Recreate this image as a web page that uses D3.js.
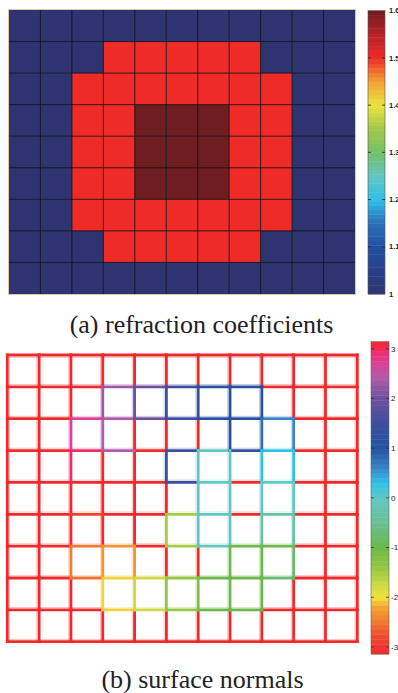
<!DOCTYPE html>
<html>
<head>
<meta charset="utf-8">
<script src="https://cdn.jsdelivr.net/npm/d3@7"></script>
<style>
  html, body { margin: 0; padding: 0; background: #fff; }
  svg { display: block; }
</style>
</head>
<body>
<svg id="fig" width="398" height="693"></svg>
<script>
// ---- data --------------------------------------------------------------
// (a) refraction coefficient of every cell, 9 rows x 11 columns
const refraction = [
  [1, 1, 1, 1,   1,   1,   1,   1,   1,   1, 1],
  [1, 1, 1, 1.5, 1.5, 1.5, 1.5, 1.5, 1,   1, 1],
  [1, 1, 1.5, 1.5, 1.5, 1.5, 1.5, 1.5, 1.5, 1, 1],
  [1, 1, 1.5, 1.5, 1.6, 1.6, 1.6, 1.5, 1.5, 1, 1],
  [1, 1, 1.5, 1.5, 1.6, 1.6, 1.6, 1.5, 1.5, 1, 1],
  [1, 1, 1.5, 1.5, 1.6, 1.6, 1.6, 1.5, 1.5, 1, 1],
  [1, 1, 1.5, 1.5, 1.5, 1.5, 1.5, 1.5, 1.5, 1, 1],
  [1, 1, 1, 1.5, 1.5, 1.5, 1.5, 1.5, 1,   1, 1],
  [1, 1, 1, 1,   1,   1,   1,   1,   1,   1, 1]
];
const refractionTicks = [1, 1.1, 1.2, 1.3, 1.4, 1.5, 1.6];
const refractionTickLabels = ["1", "1.1", "1.2", "1.3", "1.4", "1.5", "1.6"];

// (b) surface normal angle (radians) on each cell edge
// horizontal edges: 10 grid lines x 11 segments
const P = 3.14;
const normalsH = [
  [P, P, P,     P,    P,     P,    P,    P,    P,    P, P],
  [P, P, P,     2.3,  2.0,   1.5,  1.1,  1.1,  P,    P, P],
  [P, P, 2.7,   2.4,  2.0,   1.5,  1.1,  1.1,  0.6,  P, P],
  [P, P, 2.95,  2.4,  P,     1.5,  0.0,  1.3,  0.3,  P, P],
  [P, P, P,     P,    P,     1.5,  0.0,  P,    0.0,  P, P],
  [P, P, -2.85, P,    P,    -1.5,  0.0,  P,   -0.3,  P, P],
  [P, P, -2.5, -2.3,  P,    -1.5,  0.0, -1.0, -1.0,  P, P],
  [P, P, -2.55, -2.05, -1.75, -1.4, -1.0, -1.0, -0.7, P, P],
  [P, P, P,    -2.05, -1.75, -1.4, -1.0, -1.0,  P,    P, P],
  [P, P, P,     P,    P,     P,    P,    P,    P,    P, P]
];
// vertical edges: 9 rows x 12 grid lines
const normalsV = [
  [P, P, P,     P,     P,     P,    P,    P,    P,    P,    P, P],
  [P, P, P,     2.3,   2.0,   1.5,  1.3,  1.1,  1.1,  P,    P, P],
  [P, P, 2.7,   2.4,   P,     P,    P,    1.1,  0.8,  0.6,  P, P],
  [P, P, 2.95,  P,     P,     1.5,  0.0,  0.0,  0.3,  0.3,  P, P],
  [P, P, P,     P,     P,     P,    0.0,  0.0,  0.0,  0.0,  P, P],
  [P, P, P,     P,     P,    -1.5,  0.0,  0.0, -0.3, -0.3,  P, P],
  [P, P, -2.5, -2.3,  -2.3,   P,    P,   -1.0, -1.0, -0.8,  P, P],
  [P, P, P,    -2.05, -1.75, -1.4, -1.2, -1.0, -1.0,  P,    P, P],
  [P, P, P,     P,     P,     P,    P,    P,    P,    P,    P, P]
];
const normalTicks = [-3, -2, -1, 0, 1, 2, 3];
const normalTickLabels = ["-3", "-2", "-1", "0", "1", "2", "3"];

// ---- colour maps ---------------------------------------------------------
const refStops = [1.0, 1.05, 1.1, 1.15, 1.2, 1.25, 1.3, 1.35, 1.4, 1.45, 1.5, 1.55, 1.6];
const refColors = ["#2d3470", "#283e8c", "#2250a2", "#2a70ba", "#2ec0ea", "#62c6c2",
                   "#74c068", "#a2c84a", "#ebe33c", "#f4a234", "#ee2b27", "#b82226", "#6e1d20"];
const refColor = d3.scaleLinear().domain(refStops).range(refColors).interpolate(d3.interpolateRgb);

const angStops = [-Math.PI, -2.8, -2.5, -2.2, -2.0, -1.7, -1.4, -1.0, -0.5, 0, 0.3, 0.6, 1.0, 1.5, 2.0, 2.4, 2.75, 3.0, Math.PI];
const angColors = ["#ee2a2c", "#f0472e", "#f27a30", "#f5a332", "#efe23c", "#c8d848", "#96c642",
                   "#6cb848", "#68c094", "#62c8c2", "#2ec2ea", "#3a84c6", "#2352a2", "#3d4ea0",
                   "#6e509e", "#ae5ca8", "#e23c96", "#ee2a5a", "#ee2a2c"];
const angColor = d3.scaleLinear().domain(angStops).range(angColors).interpolate(d3.interpolateRgb);

const svg = d3.select("#fig");

// ---- (a) refraction coefficient map ------------------------------------
const ax = d3.scaleLinear().domain([0, 11]).range([9, 355]);
const ay = d3.scaleLinear().domain([0, 9]).range([10, 294]);
const gA = svg.append("g");

const cellsA = refraction.flatMap((row, r) => row.map((v, c) => ({ r, c, v })));
gA.selectAll("rect.cell").data(cellsA).join("rect")
  .attr("x", d => ax(d.c)).attr("y", d => ay(d.r))
  .attr("width", ax(1) - ax(0) + 0.3).attr("height", ay(1) - ay(0) + 0.3)
  .attr("fill", d => refColor(d.v));

gA.selectAll("line.vx").data(d3.range(1, 11)).join("line")
  .attr("x1", d => ax(d)).attr("x2", d => ax(d))
  .attr("y1", ay(0)).attr("y2", ay(9))
  .attr("stroke", "#111118").attr("stroke-opacity", 0.85).attr("stroke-width", 1);
gA.selectAll("line.hy").data(d3.range(1, 9)).join("line")
  .attr("x1", ax(0)).attr("x2", ax(11))
  .attr("y1", d => ay(d)).attr("y2", d => ay(d))
  .attr("stroke", "#111118").attr("stroke-opacity", 0.85).attr("stroke-width", 1);
gA.append("rect")
  .attr("x", ax(0) - 0.5).attr("y", ay(0) - 0.5)
  .attr("width", ax(11) - ax(0) + 1).attr("height", ay(9) - ay(0) + 1)
  .attr("fill", "none").attr("stroke", "#e6c2ae").attr("stroke-width", 1);

// colour bar (a)
const cbA = { x: 368, w: 17 };
const cbAy = d3.scaleLinear().domain([1, 1.6]).range([294, 10.7]);
const nA = 64;
const bandsA = d3.range(nA).map(i => 1 + (i + 0.5) * 0.6 / nA);
svg.selectAll("rect.cbA").data(bandsA).join("rect")
  .attr("x", cbA.x).attr("width", cbA.w)
  .attr("y", d => cbAy(d + 0.3 / nA))
  .attr("height", cbAy(1) - cbAy(1 + 0.6 / nA) + 0.4)
  .attr("fill", d => refColor(d));
svg.append("rect").attr("x", cbA.x).attr("y", cbAy(1.6)).attr("width", cbA.w)
  .attr("height", cbAy(1) - cbAy(1.6)).attr("fill", "none")
  .attr("stroke", "#555").attr("stroke-width", 0.6);
const ticksA = svg.append("g");
refractionTicks.forEach((t, i) => {
  const y = cbAy(t);
  if (i > 0 && i < refractionTicks.length - 1) {
    ticksA.append("line").attr("x1", cbA.x).attr("x2", cbA.x + 3).attr("y1", y).attr("y2", y)
      .attr("stroke", "#222").attr("stroke-width", 0.8);
    ticksA.append("line").attr("x1", cbA.x + cbA.w - 3).attr("x2", cbA.x + cbA.w).attr("y1", y).attr("y2", y)
      .attr("stroke", "#222").attr("stroke-width", 0.8);
  }
  ticksA.append("text").attr("x", 389).attr("y", y).attr("dy", "0.35em")
    .attr("font-family", "Liberation Sans, Arial, sans-serif").attr("font-size", 7.5)
    .attr("font-weight", "bold").attr("fill", "#222")
    .text(refractionTickLabels[i]);
});

svg.append("text").attr("x", 201.5).attr("y", 333).attr("text-anchor", "middle")
  .attr("font-family", "Liberation Serif, Times New Roman, serif").attr("font-size", 26)
  .attr("fill", "#222").text("(a) refraction coefficients");

// ---- (b) surface normals on cell edges ---------------------------------
const bx = d3.scaleLinear().domain([0, 11]).range([7.3, 357.3]);
const by = d3.scaleLinear().domain([0, 9]).range([355, 641.7]);
const gB = svg.append("g");

const edges = [];
normalsH.forEach((row, r) => row.forEach((v, c) =>
  edges.push({ x1: bx(c), x2: bx(c + 1), y1: by(r), y2: by(r), v, horiz: true, border: r === 0 })));
normalsV.forEach((row, r) => row.forEach((v, c) =>
  edges.push({ x1: bx(c), x2: bx(c), y1: by(r), y2: by(r + 1), v, horiz: false, border: c === 0 })));
// red edges underneath so coloured outlines sit on top at the corners
edges.sort((a, b) => (Math.abs(b.v) > 3.05) - (Math.abs(a.v) > 3.05));

// faint inner trace beside every edge
const off = 2.3;
gB.selectAll("line.ghost").data(edges).join("line")
  .attr("x1", d => d.horiz ? d.x1 : d.x1 + (d.border ? off : -off))
  .attr("x2", d => d.horiz ? d.x2 : d.x2 + (d.border ? off : -off))
  .attr("y1", d => d.horiz ? d.y1 + (d.border ? off : -off) : d.y1)
  .attr("y2", d => d.horiz ? d.y2 + (d.border ? off : -off) : d.y2)
  .attr("stroke", d => angColor(d.v)).attr("stroke-opacity", 0.3).attr("stroke-width", 1);

gB.selectAll("line.edge").data(edges).join("line")
  .attr("x1", d => d.x1).attr("x2", d => d.x2)
  .attr("y1", d => d.y1).attr("y2", d => d.y2)
  .attr("stroke", d => angColor(d.v)).attr("stroke-width", 2.8)
  .attr("stroke-linecap", "square");

// colour bar (b)
const cbB = { x: 371, w: 18 };
const cbBy = d3.scaleLinear().domain([-Math.PI, Math.PI]).range([654, 341.7]);
const nB = 64;
const span = 2 * Math.PI;
const bandsB = d3.range(nB).map(i => -Math.PI + (i + 0.5) * span / nB);
svg.selectAll("rect.cbB").data(bandsB).join("rect")
  .attr("x", cbB.x).attr("width", cbB.w)
  .attr("y", d => cbBy(d + span / nB / 2))
  .attr("height", cbBy(0) - cbBy(span / nB) + 0.4)
  .attr("fill", d => angColor(d));
svg.append("rect").attr("x", cbB.x).attr("y", cbBy(Math.PI)).attr("width", cbB.w)
  .attr("height", cbBy(-Math.PI) - cbBy(Math.PI)).attr("fill", "none")
  .attr("stroke", "#666").attr("stroke-width", 0.6);
const ticksB = svg.append("g");
normalTicks.forEach((t, i) => {
  const y = cbBy(t);
  ticksB.append("line").attr("x1", cbB.x).attr("x2", cbB.x + 3).attr("y1", y).attr("y2", y)
    .attr("stroke", "#333").attr("stroke-width", 0.8);
  ticksB.append("line").attr("x1", cbB.x + cbB.w - 3).attr("x2", cbB.x + cbB.w).attr("y1", y).attr("y2", y)
    .attr("stroke", "#333").attr("stroke-width", 0.8);
  ticksB.append("text").attr("x", 391).attr("y", y).attr("dy", "0.35em")
    .attr("font-family", "Liberation Sans, Arial, sans-serif").attr("font-size", 8)
    .attr("fill", "#222").text(normalTickLabels[i]);
});

svg.append("text").attr("x", 202.5).attr("y", 688).attr("text-anchor", "middle")
  .attr("font-family", "Liberation Serif, Times New Roman, serif").attr("font-size", 26)
  .attr("fill", "#222").text("(b) surface normals");
</script>
</body>
</html>
